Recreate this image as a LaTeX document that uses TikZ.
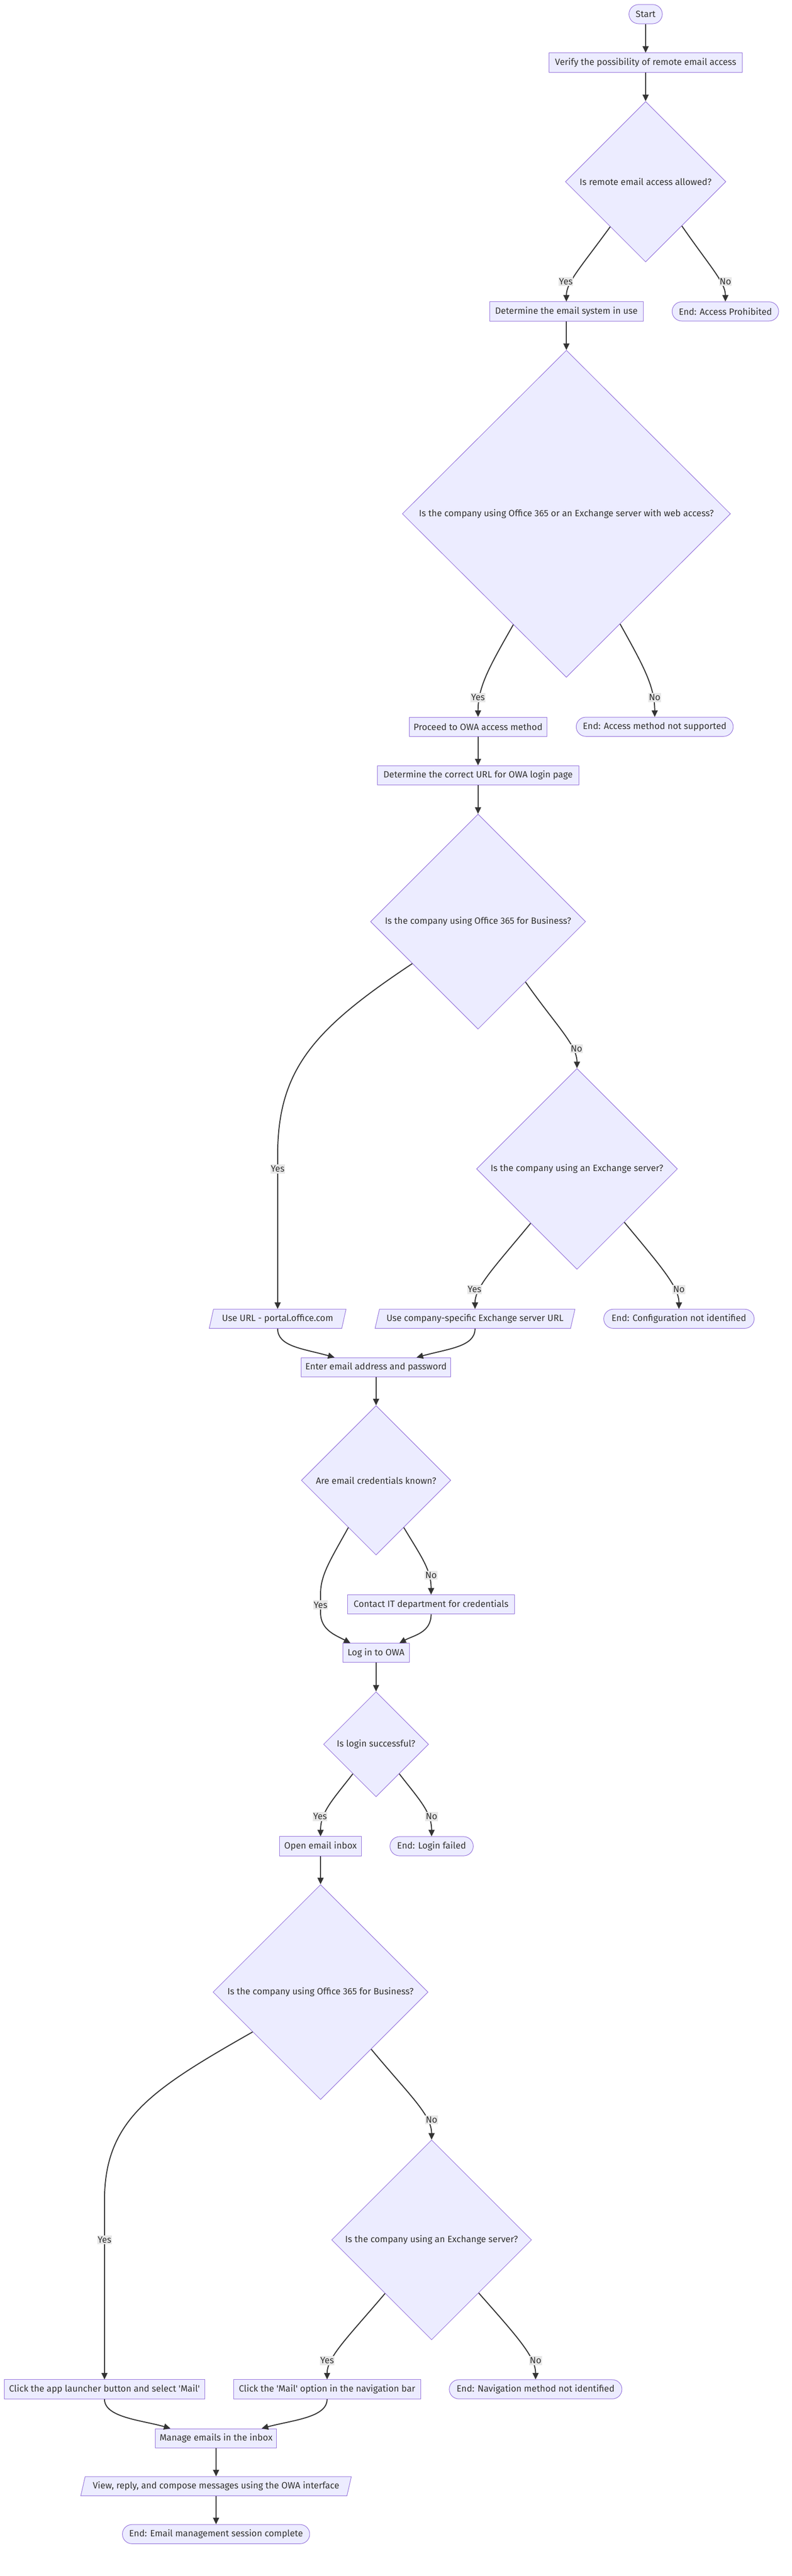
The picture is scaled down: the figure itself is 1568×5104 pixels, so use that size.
\documentclass[tikz,border=0pt]{standalone}
\usepackage{fontspec}
\setmainfont{Fira Sans}
\usetikzlibrary{shapes.geometric,arrows.meta,calc}
\definecolor{mmfill}{HTML}{ECECFF}
\definecolor{mmstroke}{HTML}{9370DB}
\definecolor{mmtext}{HTML}{333333}
\definecolor{mmedge}{HTML}{333333}
\definecolor{mmlabel}{HTML}{E8E8E8}
\newcommand{\mmfont}{\fontsize{18}{21.6}\selectfont}
\begin{document}
\begin{tikzpicture}[x=1pt,y=-1pt,
  base/.style={draw=mmstroke, fill=mmfill, line width=1pt, text=mmtext, font=\mmfont, inner sep=0pt, minimum height=38pt},
  proc/.style={base, rectangle},
  term/.style={base, rectangle, rounded corners=19pt},
  dec/.style={base, diamond, aspect=1},
  io/.style={base, trapezium, trapezium left angle=64, trapezium right angle=116, trapezium stretches body},
  edge/.style={draw=mmedge, line width=2pt, -{Triangle[length=13pt,width=12pt]}},
  lbl/.style={fill=mmlabel, text=mmtext, font=\mmfont, inner xsep=1pt, inner ysep=0pt, minimum height=18pt},
]
\useasboundingbox[fill=white] (0,0) rectangle (1568,5104);

% nodes
\node[term, minimum width=66pt] (start) at (1279,28) {Start};
\node[proc, minimum width=382pt] (verify) at (1279,124) {Verify the possibility of remote email access};
\node[dec, minimum width=318pt, minimum height=318pt] (d1) at (1279,360) {Is remote email access allowed?};
\node[proc, minimum width=304pt] (sys) at (1122,617) {Determine the email system in use};
\node[term, minimum width=211pt] (endProhib) at (1437,617) {End: Access Prohibited};
\node[dec, minimum width=650pt, minimum height=648pt] (d2) at (1122,1018) {Is the company using Office 365 or an Exchange server with web access?};
\node[proc, minimum width=273pt] (owa) at (947,1440) {Proceed to OWA access method};
\node[term, minimum width=311pt] (endNotSup) at (1297,1440) {End: Access method not supported};
\node[proc, minimum width=399pt] (url) at (947,1536) {Determine the correct URL for OWA login page};
\node[dec, minimum width=426pt, minimum height=426pt] (d3) at (947,1826) {Is the company using Office 365 for Business?};
\node[dec, minimum width=398pt, minimum height=398pt] (d4) at (1143,2316) {Is the company using an Exchange server?};
\node[io, minimum width=271pt] (portal) at (550,2613) {Use URL - portal.office.com};
\node[io, minimum width=396pt] (exch) at (941,2613) {Use company-specific Exchange server URL};
\node[term, minimum width=298pt] (endConf) at (1345,2613) {End: Configuration not identified};
\node[proc, minimum width=296pt] (enter) at (745,2709) {Enter email address and password};
\node[dec, minimum width=296pt, minimum height=296pt] (d5) at (745,2933) {Are email credentials known?};
\node[proc, minimum width=331pt] (contact) at (854,3179) {Contact IT department for credentials};
\node[proc, minimum width=131pt] (login) at (745,3275) {Log in to OWA};
\node[dec, minimum width=208pt, minimum height=208pt] (d6) at (745,3456) {Is login successful?};
\node[proc, minimum width=162pt] (inbox) at (635,3658) {Open email inbox};
\node[term, minimum width=165pt] (endLogin) at (855,3658) {End: Login failed};
\node[dec, minimum width=426pt, minimum height=426pt] (d7) at (635,3947) {Is the company using Office 365 for Business?};
\node[dec, minimum width=396pt, minimum height=396pt] (d8) at (855,4438) {Is the company using an Exchange server?};
\node[proc, minimum width=397pt] (launcher) at (207,4734) {Click the app launcher button and select \textquotesingle Mail\textquotesingle};
\node[proc, minimum width=370pt] (mailopt) at (648,4734) {Click the \textquotesingle Mail\textquotesingle\ option in the navigation bar};
\node[term, minimum width=342pt] (endNav) at (1061,4734) {End: Navigation method not identified};
\node[proc, minimum width=240pt] (manage) at (428,4831) {Manage emails in the inbox};
\node[io, minimum width=536pt] (view) at (428,4926) {View, reply, and compose messages using the OWA interface};
\node[term, minimum width=371pt] (endMgmt) at (428,5021) {End: Email management session complete};

% edges
\draw[edge] (start.south) -- (verify.north);
\draw[edge] (verify.south) -- (d1.north);
\draw[edge] ($(d1.west)!0.56!(d1.south)$) .. controls (1150,530) and (1122,560) .. (sys.north);
\draw[edge] ($(d1.east)!0.55!(d1.south)$) .. controls (1408,530) and (1437,560) .. (endProhib.north);
\draw[edge] (sys.south) -- (d2.north);
\draw[edge] ($(d2.west)!0.677!(d2.south)$) .. controls (970,1320) and (947,1360) .. (owa.north);
\draw[edge] ($(d2.east)!0.673!(d2.south)$) .. controls (1275,1320) and (1297,1360) .. (endNotSup.north);
\draw[edge] (owa.south) -- (url.north);
\draw[edge] (url.south) -- (d3.north);
\draw[edge] ($(d3.west)!0.39!(d3.south)$) .. controls (620,2040) and (550,2120) .. (550,2290) -- (portal.north);
\draw[edge] ($(d3.east)!0.56!(d3.south)$) .. controls (1100,2030) and (1143,2070) .. (d4.north);
\draw[edge] ($(d4.west)!0.54!(d4.south)$) .. controls (980,2510) and (941,2550) .. (exch.north);
\draw[edge] ($(d4.east)!0.53!(d4.south)$) .. controls (1310,2510) and (1345,2550) .. (endConf.north);
\draw[edge] (portal.south) .. controls (550,2668) and (600,2672) .. ($(enter.north west)!0.223!(enter.north east)$);
\draw[edge] (exch.south) .. controls (941,2668) and (890,2672) .. ($(enter.north west)!0.77!(enter.north east)$);
\draw[edge] (enter.south) -- (d5.north);
\draw[edge] ($(d5.west)!0.63!(d5.south)$) .. controls (655,3090) and (635,3120) .. (635,3158) -- (635,3195) .. controls (635,3230) and (665,3240) .. ($(login.north west)!0.115!(login.north east)$);
\draw[edge] ($(d5.east)!0.63!(d5.south)$) .. controls (835,3085) and (854,3110) .. (contact.north);
\draw[edge] (contact.south) .. controls (854,3235) and (820,3240) .. ($(login.north west)!0.85!(login.north east)$);
\draw[edge] (login.south) -- (d6.north);
\draw[edge] ($(d6.west)!0.56!(d6.south)$) .. controls (660,3565) and (635,3590) .. (inbox.north);
\draw[edge] ($(d6.east)!0.56!(d6.south)$) .. controls (830,3565) and (855,3590) .. (endLogin.north);
\draw[edge] (inbox.south) -- (d7.north);
\draw[edge] ($(d7.west)!0.37!(d7.south)$) .. controls (300,4140) and (207,4200) .. (207,4360) -- (launcher.north);
\draw[edge] ($(d7.east)!0.53!(d7.south)$) .. controls (810,4150) and (855,4190) .. (d8.north);
\draw[edge] ($(d8.west)!0.535!(d8.south)$) .. controls (690,4630) and (648,4670) .. (mailopt.north);
\draw[edge] ($(d8.east)!0.53!(d8.south)$) .. controls (1025,4630) and (1061,4670) .. (endNav.north);
\draw[edge] (launcher.south) .. controls (207,4790) and (280,4795) .. ($(manage.north west)!0.125!(manage.north east)$);
\draw[edge] (mailopt.south) .. controls (648,4790) and (580,4795) .. ($(manage.north west)!0.875!(manage.north east)$);
\draw[edge] (manage.south) -- (view.north);
\draw[edge] (view.south) -- (endMgmt.north);

% edge labels
\node[lbl] (l1y) at (1121,558) {Yes};
\node[lbl] (l1n) at (1437,558) {No};
\node[lbl] (l2y) at (947,1382) {Yes};
\node[lbl] (l2n) at (1297,1382) {No};
\node[lbl] (l3y) at (550,2316) {Yes};
\node[lbl] (l3n) at (1142,2078) {No};
\node[lbl] (l4y) at (940,2555) {Yes};
\node[lbl] (l4n) at (1345,2555) {No};
\node[lbl] (l5y) at (635,3180) {Yes};
\node[lbl] (l5n) at (854,3121) {No};
\node[lbl] (l6y) at (634,3599) {Yes};
\node[lbl] (l6n) at (855,3599) {No};
\node[lbl] (l7y) at (207,4438) {Yes};
\node[lbl] (l7n) at (855,4200) {No};
\node[lbl] (l8y) at (648,4677) {Yes};
\node[lbl] (l8n) at (1061,4677) {No};
\end{tikzpicture}
\end{document}
